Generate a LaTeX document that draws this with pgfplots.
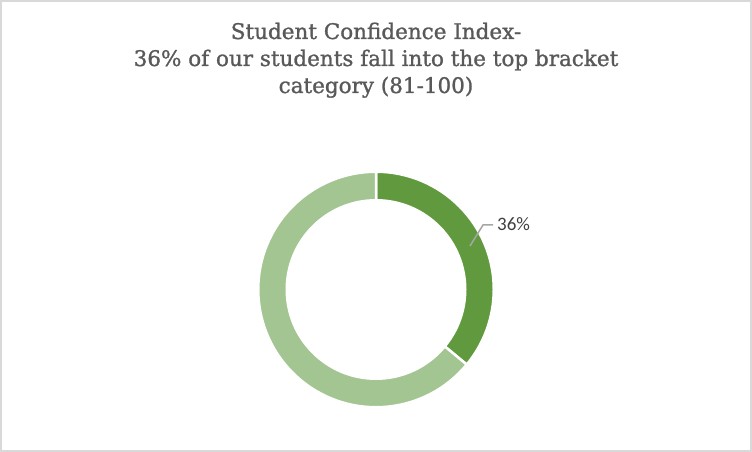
\documentclass[border=0pt]{standalone}
\usepackage{pgfplots}
\pgfplotsset{compat=1.18}
\usepackage{pgfplotstable}
\usepackage{fontspec}
\setmainfont{DejaVu Serif}
\newfontfamily\titlefont{DejaVu Serif}[FakeBold=1.2]
\newfontfamily\labfont{Carlito}

\definecolor{darkg}{HTML}{619A3E}
\definecolor{lightg}{HTML}{A3C592}
\definecolor{titlegray}{HTML}{595959}
\definecolor{labgray}{HTML}{404040}
\definecolor{leadgray}{HTML}{A6A6A6}
\definecolor{framegray}{HTML}{D9D9D9}

% share of students per bracket (%)
\pgfplotstableread{
part value
top 36
rest 64
}\donut

\pgfplotstablegetelem{0}{value}\of\donut \let\va\pgfplotsretval
\pgfplotstablegetelem{1}{value}\of\donut \let\vb\pgfplotsretval
\pgfmathsetmacro\aA{90}
\pgfmathsetmacro\aB{90-3.6*\va}
\pgfmathsetmacro\aC{\aB-3.6*\vb}

% ring slice: colour, start angle, end angle
\newcommand\slice[3]{%
  \fill[#1,draw=white,line width=2.5bp]
    ([shift={(#2:117.75bp)}]axis cs:376,162.5) arc[start angle=#2,end angle=#3,radius=117.75bp]
    -- ([shift={(#3:89.25bp)}]axis cs:376,162.5) arc[start angle=#3,end angle=#2,radius=89.25bp]
    -- cycle;}

\begin{document}
\begin{tikzpicture}
\begin{axis}[
    width=752bp, height=452bp, scale only axis,
    xmin=0, xmax=752, ymin=0, ymax=452,
    hide axis, clip=false]
  \draw[framegray,line width=2bp] (axis cs:1,1) rectangle (axis cs:751,451);
  \node[anchor=base,text=titlegray,font=\titlefont\fontsize{21.5bp}{27bp}\selectfont]
    at (axis cs:376,413) {Student Confidence Index-};
  \node[anchor=base,text=titlegray,font=\titlefont\fontsize{21.5bp}{27bp}\selectfont]
    at (axis cs:376,386) {36\% of our students fall into the top bracket};
  \node[anchor=base,text=titlegray,font=\titlefont\fontsize{21.5bp}{27bp}\selectfont]
    at (axis cs:376,359) {category (81-100)};
  \slice{darkg}{\aA}{\aB}
  \slice{lightg}{\aB}{\aC}
  \draw[leadgray,line width=1.5bp] (axis cs:470,206) -- (axis cs:483,227) -- (axis cs:493,227);
  \node[anchor=base west,inner sep=0pt,text=labgray,font=\labfont\fontsize{19bp}{22bp}\selectfont]
    at (axis cs:497,221) {\va\%};
\end{axis}
\end{tikzpicture}
\end{document}
